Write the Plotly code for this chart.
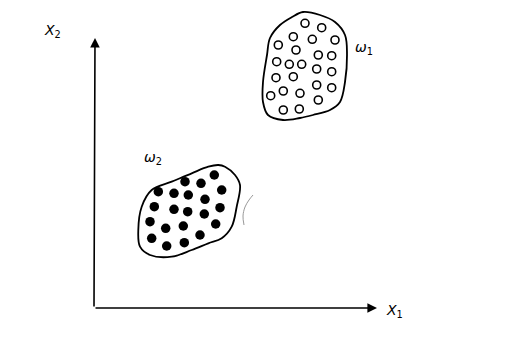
import plotly.graph_objects as go

# Class omega_1 (open circles) sample positions
w1_x = [305, 321.7, 293.3, 312.3, 335, 278.3, 296, 318.3, 331.7, 276.7, 289.3, 301.7,
        316.7, 331.7, 276, 293.3, 316.7, 331.7, 270.7, 283.3, 300, 318.3, 283.3, 299.3]
w1_y = [23.3, 27.7, 36.7, 39.3, 40, 45, 50, 55, 55.7, 61.7, 64.3, 64.3,
        69, 71.7, 77.7, 76.7, 85, 87.7, 95.7, 91, 93.3, 100, 110, 109]

# Class omega_2 (filled dots) sample positions
w2_x = [214.3, 185, 201, 158.3, 174, 188.3, 221.7, 205, 154.3, 174, 187.7, 204.3,
        220, 150, 165.7, 183.3, 215.7, 151.7, 166.7, 184.3, 200]
w2_y = [175, 181.7, 183.3, 191.7, 193.3, 195, 190, 199.3, 206.7, 209.3, 211.7, 214,
        207.7, 221.7, 228.3, 226, 224, 238.3, 246, 242.7, 235]

# Region outlines
r1_x = [303, 320, 335, 345, 347, 345, 340, 330, 313, 300, 283, 268, 263, 263, 267, 270, 280, 292, 303]
r1_y = [12, 15, 22, 35, 55, 82, 102, 110, 115, 118, 120, 115, 102, 82, 55, 38, 25, 17, 12]
r2_x = [225, 235, 240, 236.7, 231.7, 221.7, 208.3, 191.7, 171.7, 150, 140, 138.3, 141.7, 151.7, 171.7, 191.7, 208.3, 218.3, 225]
r2_y = [166.7, 175, 185, 206.7, 226.7, 238.3, 243.3, 250, 256.7, 255, 246.7, 230, 206.7, 190, 181.7, 173.3, 166.7, 165, 166.7]

# Stray pen mark
mark_x = [253, 249, 245, 243, 244]
mark_y = [195, 200, 207, 216, 225]

fig = go.Figure()
ln = dict(color="black", width=1.8, shape="spline", smoothing=1.0)
fig.add_trace(go.Scatter(x=r1_x, y=r1_y, mode="lines", line=ln, hoverinfo="skip"))
fig.add_trace(go.Scatter(x=r2_x, y=r2_y, mode="lines", line=ln, hoverinfo="skip"))
fig.add_trace(go.Scatter(x=mark_x, y=mark_y, mode="lines",
                         line=dict(color="#999999", width=1, shape="spline"), hoverinfo="skip"))
fig.add_trace(go.Scatter(x=w1_x, y=w1_y, mode="markers",
                         marker=dict(symbol="circle-open", size=8, color="black", line=dict(width=1.6))))
fig.add_trace(go.Scatter(x=w2_x, y=w2_y, mode="markers",
                         marker=dict(symbol="circle", size=9.5, color="black")))

# Axes with arrows
fig.add_annotation(x=95, y=38, ax=94, ay=308, xref="x", yref="y", axref="x", ayref="y",
                   showarrow=True, arrowhead=2, arrowsize=1.2, arrowwidth=1.6, arrowcolor="black", text="")
fig.add_annotation(x=377, y=308, ax=94, ay=308, xref="x", yref="y", axref="x", ayref="y",
                   showarrow=True, arrowhead=2, arrowsize=1.2, arrowwidth=1.6, arrowcolor="black", text="")

lab_font = dict(family="DejaVu Sans", size=14, color="black")
fig.add_annotation(x=52, y=31, text="<i>X</i><sub>2</sub>", showarrow=False, font=lab_font)
fig.add_annotation(x=394, y=311, text="<i>X</i><sub>1</sub>", showarrow=False, font=lab_font)
fig.add_annotation(x=364, y=48, text="<i>ω</i><sub>1</sub>", showarrow=False, font=lab_font)
fig.add_annotation(x=153, y=158, text="<i>ω</i><sub>2</sub>", showarrow=False, font=lab_font)

# The page body has an 8px margin; size the figure and ranges so data units equal window pixels.
fig.update_layout(
    width=506, height=324, margin=dict(l=0, r=0, t=0, b=0),
    paper_bgcolor="white", plot_bgcolor="white", showlegend=False,
    xaxis=dict(range=[8, 514], visible=False, fixedrange=True),
    yaxis=dict(range=[332, 8], visible=False, fixedrange=True),
)
fig.write_html("out.html", config={"displayModeBar": False})
